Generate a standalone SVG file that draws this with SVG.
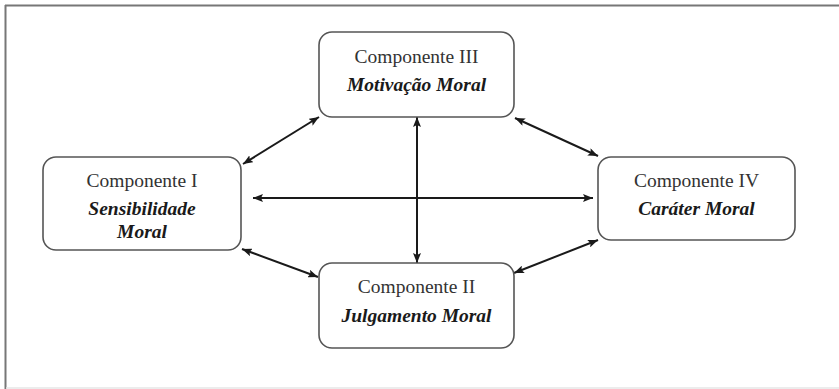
<svg xmlns="http://www.w3.org/2000/svg" width="839" height="389" viewBox="0 0 839 389">
  <defs>
    <marker id="ah" viewBox="0 0 10 8" refX="10" refY="4" markerWidth="10" markerHeight="8" markerUnits="userSpaceOnUse" orient="auto-start-reverse">
      <path d="M0,0 L10,4 L0,8 L2,4 Z" fill="#1a1a1a"/>
    </marker>
  </defs>
  <style>
    .box { fill: #ffffff; stroke: #555555; stroke-width: 1.6; }
    text { font-family: 'Liberation Serif', 'DejaVu Serif', serif; font-size: 19.5px; text-anchor: middle; }
    .t { fill: #333333; }
    .b { font-weight: bold; font-style: italic; fill: #1a1a1a; }
    .c { stroke: #1a1a1a; stroke-width: 2; fill: none; marker-start: url(#ah); marker-end: url(#ah); }
  </style>
  <rect x="0" y="0" width="839" height="389" fill="#ffffff"/>
  <g id="frame">
    <line x1="5" y1="5.5" x2="839" y2="5.5" stroke="#777777" stroke-width="2"/>
    <line x1="5.5" y1="5" x2="5.5" y2="389" stroke="#777777" stroke-width="2"/>
    <line x1="6" y1="388" x2="839" y2="388" stroke="#e6e6e6" stroke-width="1.5"/>
  </g>
  <g id="connectors">
    <line class="c" x1="243" y1="164" x2="319" y2="117"/>
    <line class="c" x1="515" y1="118" x2="598" y2="156"/>
    <line class="c" x1="253" y1="198" x2="593" y2="198"/>
    <line class="c" x1="417" y1="117" x2="417" y2="263"/>
    <line class="c" x1="242" y1="249" x2="318" y2="277"/>
    <line class="c" x1="598" y1="240" x2="514" y2="273"/>
  </g>
  <g id="comp3">
    <rect class="box" x="319" y="32" width="195" height="85" rx="13"/>
    <text class="t" x="416.5" y="63">Componente III</text>
    <text class="b" x="416.5" y="91">Motivação Moral</text>
  </g>
  <g id="comp1">
    <rect class="box" x="43" y="157" width="198" height="93" rx="13"/>
    <text class="t" x="142" y="187">Componente I</text>
    <text class="b" x="142" y="215">Sensibilidade</text>
    <text class="b" x="142" y="238">Moral</text>
  </g>
  <g id="comp4">
    <rect class="box" x="598" y="157" width="197" height="83" rx="13"/>
    <text class="t" x="696.5" y="187">Componente IV</text>
    <text class="b" x="696.5" y="215">Caráter Moral</text>
  </g>
  <g id="comp2">
    <rect class="box" x="319" y="263" width="195" height="85" rx="13"/>
    <text class="t" x="416.5" y="293">Componente II</text>
    <text class="b" x="416.5" y="322">Julgamento Moral</text>
  </g>
</svg>
